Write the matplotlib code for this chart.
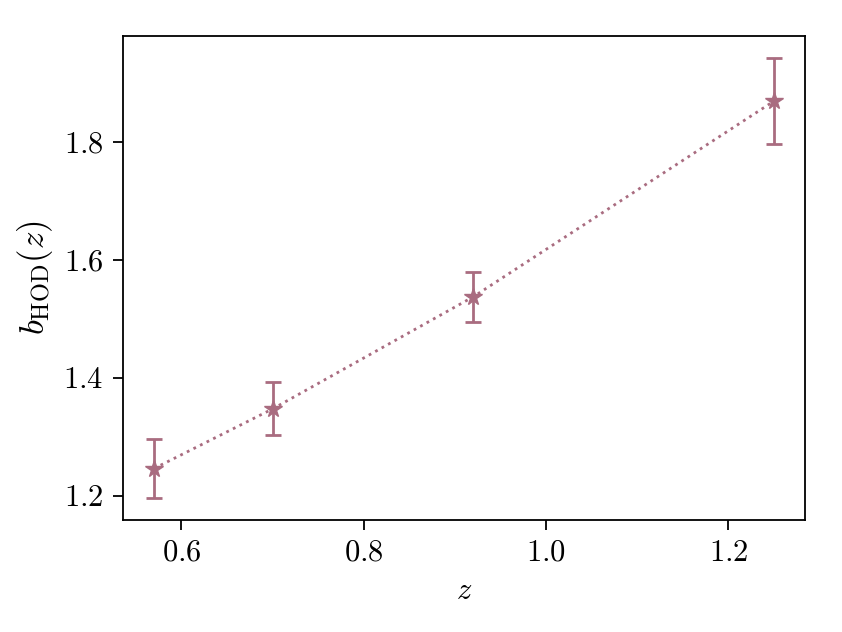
import matplotlib
matplotlib.use("Agg")
import matplotlib.pyplot as plt

plt.rcParams['font.family'] = 'serif'
plt.rcParams['font.serif'] = ['cmr10']
plt.rcParams['mathtext.fontset'] = 'cm'
plt.rcParams['axes.formatter.use_mathtext'] = True
plt.rcParams['font.size'] = 22

z = [0.57, 0.70, 0.92, 1.25]
b_hod = [1.246, 1.347, 1.537, 1.869]
b_err = [0.050, 0.045, 0.043, 0.073]

kolor = '#a96c80'

fig = plt.figure(figsize=(8.42, 6.32), dpi=100)
ax = fig.add_axes([123 / 842, 1 - 520 / 632, (805 - 123) / 842, (520 - 36) / 632])

ax.errorbar(z, b_hod, yerr=b_err, fmt='*', color=kolor, markersize=13,
            capsize=6, elinewidth=2, capthick=2)
ax.plot(z, b_hod, ':', color=kolor, lw=2)

for s in ax.spines.values():
    s.set_linewidth(1.3)
ax.tick_params(length=7, width=1.3, pad=7)

ax.set_xlabel(r'$z$', labelpad=8)
ax.set_ylabel(r'$b_{\rm HOD}(z)$', labelpad=6, fontsize=25)
ax.set_xticks([0.6, 0.8, 1.0, 1.2])
ax.set_yticks([1.2, 1.4, 1.6, 1.8])

fig.savefig('out.png', dpi=100)
